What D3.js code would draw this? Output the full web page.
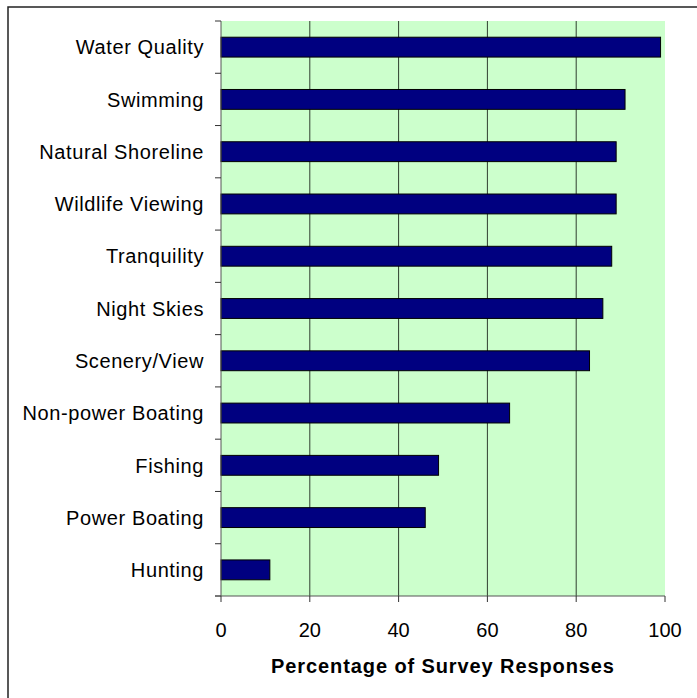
<!DOCTYPE html>
<html>
<head>
<meta charset="utf-8">
<script src="https://cdn.jsdelivr.net/npm/d3@7"></script>
<style>
  html, body { margin: 0; padding: 0; background: #fff; }
  svg { display: block; }
  text { font-family: "Liberation Sans", Arial, sans-serif; }
</style>
</head>
<body>
<svg id="chart" width="697" height="698"></svg>
<script>
const categories = ["Water Quality", "Swimming", "Natural Shoreline", "Wildlife Viewing", "Tranquility",
  "Night Skies", "Scenery/View", "Non-power Boating", "Fishing", "Power Boating", "Hunting"];
const values = [99, 91, 89, 89, 88, 86, 83, 65, 49, 46, 11];
const xTicks = [0, 20, 40, 60, 80, 100];
const xTitle = "Percentage of Survey Responses";

const svg = d3.select("#chart");
const m = { left: 221, top: 21, right: 665, bottom: 596 };

// outer frame (extends past right/bottom edges as in reference)
svg.append("rect").attr("x", 8).attr("y", 7).attr("width", 800).attr("height", 800)
  .attr("fill", "#fff").attr("stroke", "#222").attr("stroke-width", 1.5);

const x = d3.scaleLinear().domain([0, 100]).range([m.left, m.right]);
const y = d3.scaleBand().domain(categories).range([m.top, m.bottom]).paddingInner(0.62).paddingOuter(0.31);

// plot background
svg.append("rect").attr("x", m.left).attr("y", m.top)
  .attr("width", m.right - m.left).attr("height", m.bottom - m.top).attr("fill", "#CCFFCC");

// gridlines
svg.append("g").selectAll("line").data(xTicks.filter(t => t > 0 && t < 100)).join("line")
  .attr("x1", d => x(d)).attr("x2", d => x(d)).attr("y1", m.top).attr("y2", m.bottom)
  .attr("stroke", "#2f3f2f").attr("stroke-width", 1);

// bars
svg.append("g").selectAll("rect").data(categories).join("rect")
  .attr("x", x(0)).attr("y", d => y(d))
  .attr("width", (d, i) => x(values[i]) - x(0))
  .attr("height", y.bandwidth())
  .attr("fill", "#000080").attr("stroke", "#000").attr("stroke-width", 1);

// left axis (category)
const yb = d3.scaleLinear().domain([0, categories.length]).range([m.top, m.bottom]);
const gL = svg.append("g");
gL.append("line").attr("x1", m.left).attr("x2", m.left).attr("y1", m.top).attr("y2", m.bottom)
  .attr("stroke", "#555").attr("stroke-width", 1);
gL.selectAll("line.tk").data(d3.range(categories.length + 1)).join("line").attr("class", "tk")
  .attr("x1", m.left - 6).attr("x2", m.left).attr("y1", d => yb(d)).attr("y2", d => yb(d))
  .attr("stroke", "#333").attr("stroke-width", 1);
gL.selectAll("text").data(categories).join("text")
  .attr("x", m.left - 17).attr("y", d => y(d) + y.bandwidth() / 2)
  .attr("dy", "0.36em").attr("text-anchor", "end")
  .attr("font-size", 20).attr("letter-spacing", "0.6px").attr("fill", "#000")
  .text(d => d);

// bottom axis
const gB = svg.append("g");
gB.append("line").attr("x1", m.left - 6).attr("x2", m.right).attr("y1", m.bottom).attr("y2", m.bottom)
  .attr("stroke", "#555").attr("stroke-width", 1);
gB.selectAll("line.tk").data(xTicks).join("line").attr("class", "tk")
  .attr("x1", d => x(d)).attr("x2", d => x(d)).attr("y1", m.bottom).attr("y2", m.bottom + 6)
  .attr("stroke", "#333").attr("stroke-width", 1);
gB.selectAll("text").data(xTicks).join("text")
  .attr("x", d => x(d)).attr("y", 637).attr("text-anchor", "middle")
  .attr("font-size", 20).attr("fill", "#000").text(d => d);

svg.append("text").attr("x", (m.left + m.right) / 2).attr("y", 673)
  .attr("text-anchor", "middle").attr("font-size", 20).attr("font-weight", "bold")
  .attr("letter-spacing", "0.9px").attr("fill", "#000").text(xTitle);
</script>
</body>
</html>
